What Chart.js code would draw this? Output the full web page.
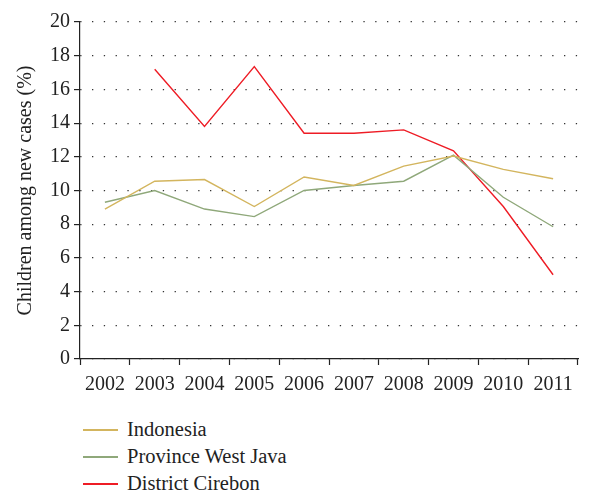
<!DOCTYPE html>
<html>
<head>
<meta charset="utf-8">
<script src="https://cdn.jsdelivr.net/npm/chart.js@4"></script>
<style>
  html, body { margin: 0; padding: 0; background: #fff; }
  #wrap { position: relative; width: 607px; height: 492px; }
  #chartBox { position: absolute; left: 0; top: 0; width: 607px; height: 407px; }
  #legend { position: absolute; left: 83px; top: 416px; font-family: "Liberation Serif", serif; font-size: 20.5px; color: #222; }
  .item { height: 27px; display: flex; align-items: center; }
  .swatch { width: 35px; height: 0; border-top: 2px solid; margin-right: 9px; }
</style>
</head>
<body>
<div id="wrap">
  <div id="chartBox"><canvas id="chart" width="607" height="407"></canvas></div>
  <div id="legend"></div>
</div>
<script>
// Years on the x axis
const years = ['2002', '2003', '2004', '2005', '2006', '2007', '2008', '2009', '2010', '2011'];

// Children among new cases (%)
const indonesia = [8.9, 10.55, 10.65, 9.05, 10.8, 10.3, 11.45, 12.05, 11.25, 10.7];
const westJava = [9.3, 10.0, 8.9, 8.45, 10.0, 10.3, 10.55, 12.1, 9.6, 7.85];
const cirebon = [null, 17.2, 13.8, 17.35, 13.4, 13.4, 13.6, 12.35, 9.05, 5.0];

const seriesNames = ['Indonesia', 'Province West Java', 'District Cirebon'];
const seriesColors = ['#d3b55e', '#8fa87a', '#ee1c25'];

const serif = '"Liberation Serif", serif';

function makeDataset(i, values) {
    return {
        label: seriesNames[i],
        data: values,
        borderColor: seriesColors[i],
        backgroundColor: seriesColors[i],
        borderWidth: 1.4,
        pointRadius: 0,
        tension: 0,
        fill: false,
        spanGaps: false
    };
}

const chart = new Chart(document.getElementById('chart').getContext('2d'), {
    type: 'line',
    data: {
        labels: years,
        datasets: [
            makeDataset(0, indonesia),
            makeDataset(1, westJava),
            makeDataset(2, cirebon)
        ]
    },
    options: {
        responsive: false,
        animation: false,
        layout: { padding: { top: 22, right: 29, bottom: 2, left: 14 } },
        plugins: {
            legend: { display: false },
            tooltip: { enabled: false }
        },
        scales: {
            x: {
                offset: true,
                grid: {
                    offset: true,
                    drawOnChartArea: false,
                    drawTicks: true,
                    tickLength: 6,
                    tickColor: '#222',
                    tickWidth: 1.2
                },
                border: { display: true, color: '#222', width: 1.2 },
                ticks: {
                    color: '#222',
                    font: { family: serif, size: 20 },
                    maxRotation: 0,
                    autoSkip: false,
                    padding: 8
                }
            },
            y: {
                min: 0,
                max: 20,
                ticks: {
                    stepSize: 2,
                    color: '#222',
                    font: { family: serif, size: 20 },
                    padding: 4
                },
                grid: {
                    color: '#333',
                    lineWidth: 1.2,
                    drawTicks: true,
                    tickLength: 6,
                    tickColor: '#222',
                    tickBorderDash: [],
                    tickWidth: 1.2
                },
                border: { display: true, color: '#222', width: 1.2, dash: [1.3, 10.5] },
                title: {
                    display: true,
                    text: 'Children among new cases (%)',
                    color: '#222',
                    font: { family: serif, size: 20 },
                    padding: { top: 0, bottom: 8 }
                }
            }
        }
    }
});

// HTML legend built from the datasets
const legend = document.getElementById('legend');
chart.data.datasets.forEach(ds => {
    const row = document.createElement('div');
    row.className = 'item';
    const sw = document.createElement('span');
    sw.className = 'swatch';
    sw.style.borderTopColor = ds.borderColor;
    const txt = document.createElement('span');
    txt.textContent = ds.label;
    row.appendChild(sw);
    row.appendChild(txt);
    legend.appendChild(row);
});
</script>
</body>
</html>
